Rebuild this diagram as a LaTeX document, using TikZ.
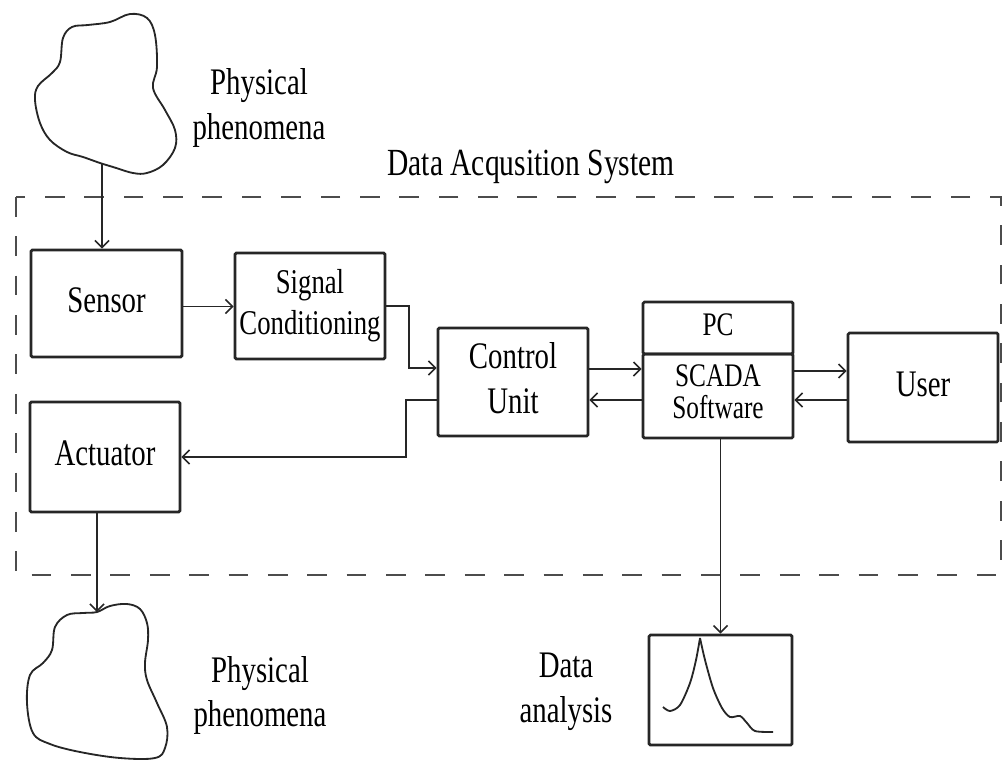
\documentclass[tikz,border=0pt]{standalone}
\usepackage{graphicx}
\usepackage{fontspec}
\setmainfont{Liberation Serif}
\usetikzlibrary{arrows.meta,calc}

% tall, narrow lettering: lines stacked and stretched vertically
\newcommand\tall[1]{\scalebox{1}[1.3]{\begin{tabular}{@{}c@{}}#1\end{tabular}}}

\begin{document}
\begin{tikzpicture}[x=0.025cm,y=-0.025cm,
  bigfont/.style={font=\fontsize{20.5}{24.6}\selectfont},
  box/.style={draw=black!85, line width=1.9pt, rounded corners=1pt,
    inner sep=0pt, bigfont, minimum width=3.75cm},
  label/.style={inner sep=0pt, bigfont},
  arr/.style={draw=black!85, line width=1.4pt,
    -{Straight Barb[length=5pt,width=10pt,line width=1.1pt]}},
  cloud/.style={draw=black!85, line width=1.3pt},
  frame/.style={draw=black!70, line width=1.8pt, dash pattern=on 14pt off 14pt},
  curve/.style={draw=black!85, line width=1.3pt}
]
\useasboundingbox (0,0) rectangle (1003,760);

% system boundary
\draw[frame] (16,197) rectangle (1001,575);
\node[label, font=\fontsize{21}{25}\selectfont] (title) at (531,166) {\tall{Data Acqusition System}};

% physical phenomena (source and target)
\draw[cloud] plot[smooth cycle, tension=0.6] coordinates {
  (130,14) (147,18) (155,35) (157,67) (153,88) (165,110) (175,130) (175,148)
  (163,165) (147,173) (133,173) (113,167) (100,163) (83,157) (67,152) (50,140)
  (40,123) (35,100) (38,86) (52,73) (60,62) (63,38) (72,27) (88,25) (110,22)};
\coordinate (topdrop) at (102,164);
\node[label] (phys1) at (259,108) {\tall{Physical\\phenomena}};

\draw[cloud] plot[smooth cycle, tension=0.6] coordinates {
  (97,612) (110,606) (127,604) (140,609) (147,623) (148,640) (145,663) (147,680)
  (157,703) (167,727) (165,748) (155,758) (120,758) (80,752) (50,744) (33,733)
  (27,703) (30,675) (43,663) (52,650) (55,627) (67,615) (83,613)};
\coordinate (botdrop) at (97,612);
\node[label] (phys2) at (260,695.5) {\tall{Physical\\phenomena}};

% blocks
\node[box, minimum width=3.775cm, minimum height=2.675cm] (sensor) at (106.5,303.5) {\tall{Sensor}};
\node[box, minimum height=2.65cm, font=\fontsize{19}{21.9}\selectfont] (sigcond) at (310,306) {\tall{Signal\\Conditioning}};
\node[box, minimum height=2.7cm] (control) at (513,382) {\tall{Control\\Unit}};
\node[box, minimum height=1.3cm, font=\fontsize{18}{21.6}\selectfont] (pc) at (718,328) {\tall{PC}};
\node[box, minimum height=2.1cm, font=\fontsize{18}{16.4}\selectfont] (scada) at (718,396) {\tall{SCADA\\Software}};
\node[box, minimum height=2.725cm] (user) at (923,387.5) {\tall{User}};
\node[box, minimum height=2.75cm] (actuator) at (105,457) {\tall{Actuator}};

% data analysis plot
\node[box, minimum width=3.575cm, minimum height=2.75cm] (data) at (720.5,690) {};
\draw[curve] plot[smooth, tension=0.5] coordinates {
  (663,707) (670,711) (680,705) (690,683) (696,660) (700,638)};
\draw[curve] plot[smooth, tension=0.5] coordinates {
  (700,638) (705,660) (713,688) (722,708) (730,717) (740,716) (747,723) (755,731) (773,732)};
\node[label] (datalabel) at (566,691) {\tall{Data\\analysis}};

% signal flow
\draw[arr] (topdrop) -- (topdrop |- sensor.north);
\coordinate (s1) at ($(sensor.east)+(0,3)$);
\draw[arr] (s1) -- (s1 -| sigcond.west);
\draw[arr] (sigcond.east) -- ++(23,0) |- ($(control.west)+(0,-14)$);
\draw[arr] ($(control.west)+(0,18)$) -- ++(-31,0) |- (actuator.east);
\draw[arr] (botdrop |- actuator.south) -- (botdrop);

\coordinate (c1) at ($(control.east)+(0,-13)$);
\draw[arr] (c1) -- (c1 -| scada.west);
\coordinate (c2) at ($(scada.west)+(0,4)$);
\draw[arr] (c2) -- (c2 -| control.east);
\coordinate (c3) at ($(scada.east)+(0,-25)$);
\draw[arr] (c3) -- (c3 -| user.west);
\coordinate (c4) at ($(user.west)+(0,12.5)$);
\draw[arr] (c4) -- (c4 -| scada.east);
\draw[arr] (scada.south -| data.north) -- (data.north);
\end{tikzpicture}
\end{document}
